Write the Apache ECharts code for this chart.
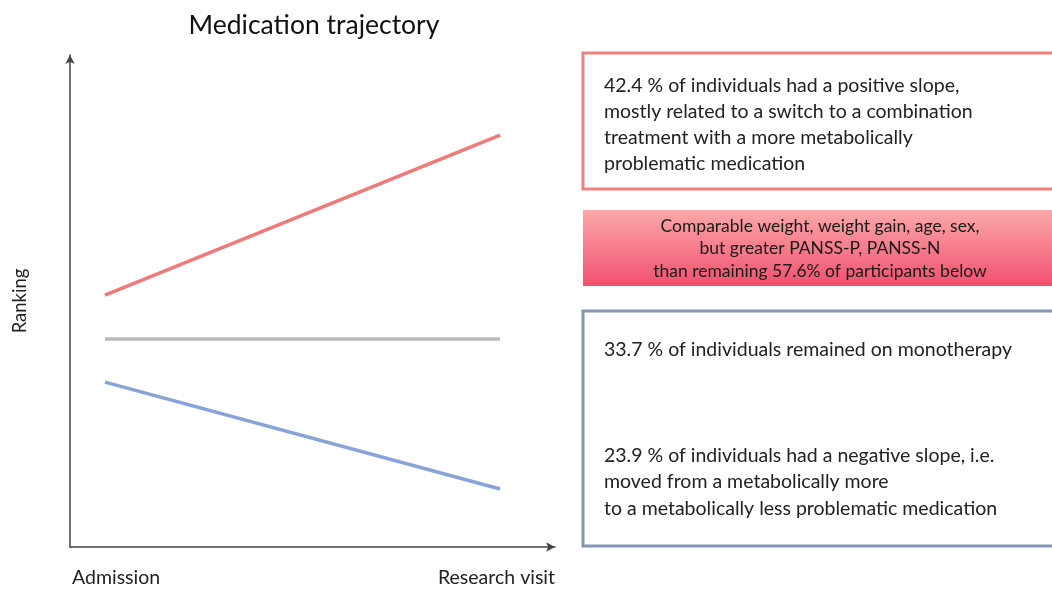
<!DOCTYPE html>
<html><head><meta charset="utf-8">
<script src="https://cdn.jsdelivr.net/npm/echarts@6/dist/echarts.min.js"></script>
<style>html,body{margin:0;padding:0;background:#fff}#c{width:1052px;height:590px}</style>
</head><body><div id="c"></div>
<script>
const titleText = 'Medication trajectory';
const categories = ['Admission', 'Research visit'];
const xPositions = [0, 1];
const positiveSlope = [51.2, 83.7];
const monotherapy = [42.3, 42.3];
const negativeSlope = [33.5, 11.8];
const yAxisName = 'Ranking';
const boxPositive = ['42.4 % of individuals had a positive slope,', 'mostly related to a switch to a combination', 'treatment with a more metabolically', 'problematic medication'];
const boxCompare = ['Comparable weight, weight gain, age, sex,', 'but greater PANSS-P, PANSS-N', 'than remaining 57.6% of participants below'];
const boxMono = ['33.7 % of individuals remained on monotherapy'];
const boxNegative = ['23.9 % of individuals had a negative slope, i.e.', 'moved from a metabolically more', 'to a metabolically less problematic medication'];

const FONT = 'Lato, "Open Sans", sans-serif';
const TXT = '#222';
const chart = echarts.init(document.getElementById('c'), null, {renderer: 'canvas'});
const pair = (ys) => xPositions.map((x, i) => [x, ys[i]]);
chart.setOption({
  animation: false,
  backgroundColor: '#fff',
  title: {text: titleText, left: 309, top: 7, textAlign: 'center',
    textStyle: {fontFamily: FONT, fontSize: 26.5, fontWeight: 'normal', color: '#111'}},
  grid: {left: 70, right: 497, top: 55, bottom: 43, containLabel: false},
  xAxis: {type: 'value', min: -0.0886, max: 1.139,
    axisLine: {show: true, onZero: false, lineStyle: {color: '#444', width: 1.5}, symbol: ['none', 'arrow'], symbolSize: [7, 9]},
    axisTick: {show: false}, axisLabel: {show: false}, splitLine: {show: false}},
  yAxis: {type: 'value', min: 0, max: 100, name: yAxisName, nameLocation: 'middle', nameGap: 40,
    nameTextStyle: {fontFamily: FONT, fontSize: 18.5, color: TXT},
    axisLine: {show: true, onZero: false, lineStyle: {color: '#444', width: 1.5}, symbol: ['none', 'arrow'], symbolSize: [7, 9]},
    axisTick: {show: false}, axisLabel: {show: false}, splitLine: {show: false}},
  series: [
    {type: 'line', data: pair(positiveSlope), symbol: 'none', lineStyle: {color: '#EE7A7A', width: 3.5}},
    {type: 'line', data: pair(monotherapy), symbol: 'none', lineStyle: {color: '#BCB8BA', width: 3.5}},
    {type: 'line', data: pair(negativeSlope), symbol: 'none', lineStyle: {color: '#87A3D9', width: 3.5}}
  ],
  graphic: [
    {type: 'text', left: 72, top: 568, style: {text: categories[0], font: '19.5px ' + FONT, fill: TXT}},
    {type: 'text', right: 497, top: 568, style: {text: categories[1], font: '19.5px ' + FONT, fill: TXT}},
    {type: 'rect', shape: {x: 583, y: 53, width: 500, height: 136}, style: {fill: '#fff', stroke: '#EA8282', lineWidth: 3}},
    {type: 'text', x: 604, y: 73, style: {text: boxPositive.join('\n'), font: '19.5px ' + FONT, lineHeight: 26, fill: TXT}},
    {type: 'rect', shape: {x: 583, y: 210, width: 480, height: 76},
      style: {fill: new echarts.graphic.LinearGradient(0, 0, 0, 1, [{offset: 0, color: '#FAA9A9'}, {offset: 1, color: '#F1506E'}])}},
    {type: 'text', x: 820, y: 215, style: {text: boxCompare.join('\n'), font: '17.5px ' + FONT, lineHeight: 22.5, fill: '#1a1a1a', align: 'center'}},
    {type: 'rect', shape: {x: 583, y: 311, width: 500, height: 235}, style: {fill: '#fff', stroke: '#8497B0', lineWidth: 3}},
    {type: 'text', x: 604, y: 337, style: {text: boxMono.join('\n'), font: '19.5px ' + FONT, lineHeight: 26, fill: TXT}},
    {type: 'text', x: 604, y: 442, style: {text: boxNegative.join('\n'), font: '19.5px ' + FONT, lineHeight: 26.5, fill: TXT}}
  ]
});
</script></body></html>
